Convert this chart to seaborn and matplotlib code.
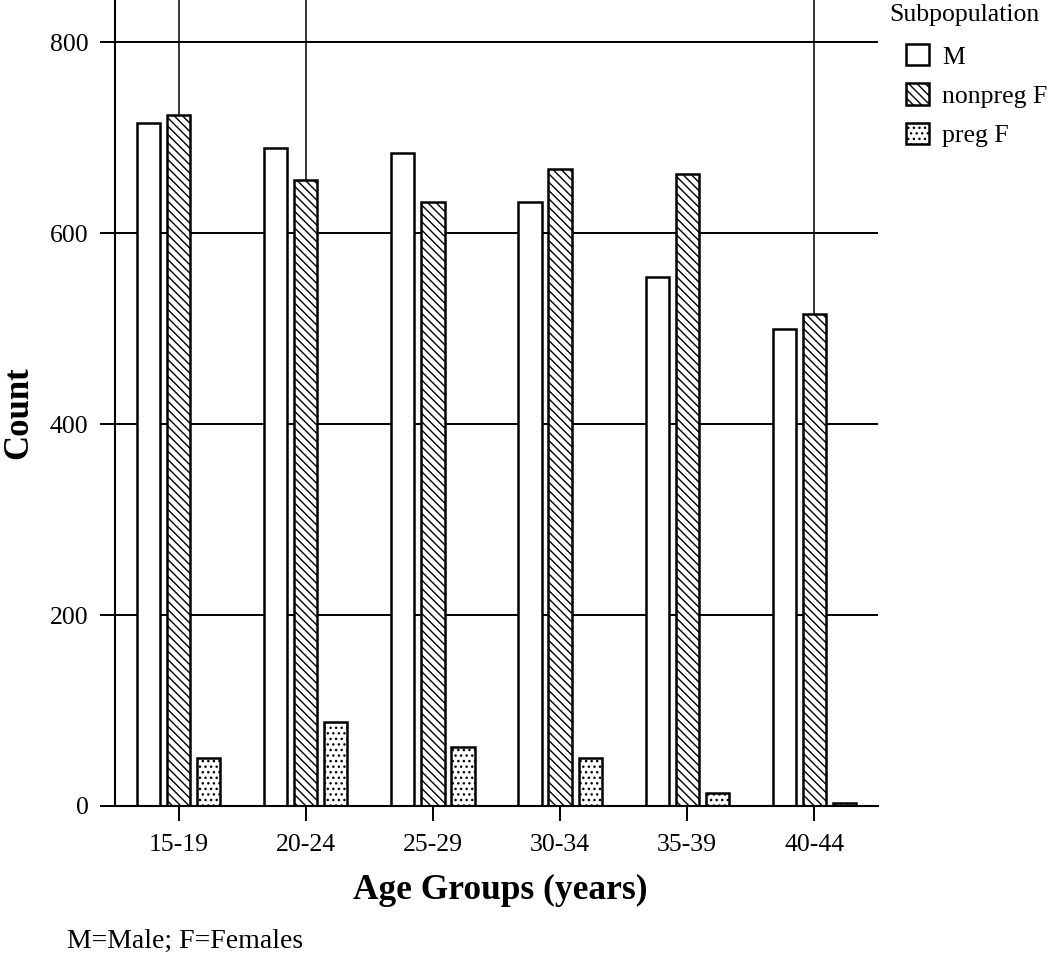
import numpy as np
import pandas as pd
import matplotlib
matplotlib.use("Agg")
import matplotlib.pyplot as plt
import seaborn as sns

# ---- data ----
age_groups = ["15-19", "20-24", "25-29", "30-34", "35-39", "40-44"]
subpops = ["M", "nonpreg F", "preg F"]
count_M = [715, 689, 684, 633, 554, 500]
count_nonpreg_F = [724, 655, 632, 667, 662, 515]
count_preg_F = [50, 88, 62, 50, 14, 3]
hatches = ["", "\\\\\\\\", "..."]
leader_groups = ["15-19", "20-24", "40-44"]
y_ticks = [0, 200, 400, 600, 800]

df = pd.DataFrame({
    "Age Groups (years)": age_groups * 3,
    "Subpopulation": np.repeat(subpops, len(age_groups)),
    "Count": count_M + count_nonpreg_F + count_preg_F,
})

sns.set_theme(style="white")
plt.rcParams["font.family"] = ["Liberation Serif", "DejaVu Serif"]
plt.rcParams["hatch.linewidth"] = 1.0
plt.rcParams["hatch.color"] = "black"

fig = plt.figure(figsize=(10.5, 9.56), dpi=100)
ax = fig.add_axes([115 / 1050, 1 - 806 / 956, (878 - 115) / 1050, 806 / 956])

sns.barplot(data=df, x="Age Groups (years)", y="Count", hue="Subpopulation",
            order=age_groups, hue_order=subpops, palette=["white"] * 3,
            width=0.71, gap=0.23, edgecolor="black", linewidth=1.8,
            saturation=1, ax=ax, legend=True)

for cont, h in zip(ax.containers, hatches):
    for bar in cont:
        bar.set_hatch(h)

ax.set_xlim(-0.5, len(age_groups) - 0.5)
ax.set_ylim(0, 844)
ax.set_yticks(y_ticks)
ax.grid(axis="y", color="black", linewidth=1.4)
ax.set_axisbelow(True)

# leader lines above selected bars
nonpreg_map = dict(zip(age_groups, count_nonpreg_F))
for g in leader_groups:
    i = age_groups.index(g)
    ax.vlines(i, nonpreg_map[g], ax.get_ylim()[1], color="black", linewidth=1.1, zorder=1)

for s in ["top", "right"]:
    ax.spines[s].set_visible(False)
for s in ["left", "bottom"]:
    ax.spines[s].set_color("black")
    ax.spines[s].set_linewidth(1.5)

ax.tick_params(axis="y", direction="out", length=11, width=1.4, color="black",
               labelsize=18.5, pad=8, left=True)
ax.tick_params(axis="x", direction="out", length=11, width=1.4, color="black",
               labelsize=18.5, pad=9, bottom=True)
for t in ax.get_xticklabels() + ax.get_yticklabels():
    t.set_color("black")

ax.set_ylabel("Count", fontsize=25, fontweight="bold", color="black")
ax.yaxis.set_label_coords((35 - 115) / 763, (806 - 413) / 806)
ax.set_xlabel("Age Groups (years)", fontsize=25.5, fontweight="bold", color="black")
ax.xaxis.set_label_coords((500 - 115) / 763, (806 - 874) / 806)

# legend
handles, labels = ax.get_legend_handles_labels()
if ax.get_legend():
    ax.get_legend().remove()
for hnd, h in zip(handles, hatches):
    hnd.set_hatch(h)
    hnd.set_facecolor("white")
    hnd.set_edgecolor("black")
    hnd.set_linewidth(1.8)
leg = fig.legend(handles, labels, loc="upper left",
                 bbox_to_anchor=(906 / 1050, 1 - 44 / 956), frameon=False,
                 fontsize=18.5, handlelength=0.9, handleheight=0.9,
                 labelspacing=0.58, handletextpad=0.5, borderpad=0,
                 borderaxespad=0)
for t in leg.get_texts():
    t.set_color("black")
fig.text(889 / 1050, 1 - 15 / 956, "Subpopulation", fontsize=18.5,
         color="black", ha="left", va="center")

fig.text(67 / 1050, 1 - 941 / 956, "M=Male; F=Females", fontsize=20,
         color="black", va="center", ha="left")

fig.savefig("out.png", dpi=100)
